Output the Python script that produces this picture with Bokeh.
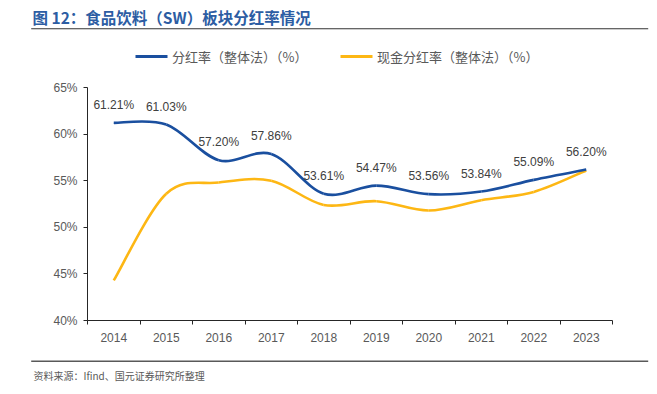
from bokeh.plotting import figure
from bokeh.layouts import column, row
from bokeh.models import Range1d, FixedTicker, PrintfTickFormatter, ColumnDataSource
from bokeh.core.properties import value
from bokeh.embed import file_html
from bokeh.resources import INLINE

years = ["2014", "2015", "2016", "2017", "2018", "2019", "2020", "2021", "2022", "2023"]
payout = [61.21, 61.03, 57.20, 57.86, 53.61, 54.47, 53.56, 53.84, 55.09, 56.20]
cash_payout = [44.3, 53.6, 54.8, 55.0, 52.4, 52.8, 51.8, 52.9, 53.8, 56.1]
y_ticks = [40, 45, 50, 55, 60, 65]

title_text = "图 12：食品饮料（SW）板块分红率情况"
legend_names = ["分红率（整体法）（%）", "现金分红率（整体法）（%）"]
source_text = "资料来源：Ifind、国元证券研究所整理"

BLUE = "#1A4F9F"
GOLD = "#FDB714"
AXIS_TXT = "#595959"
NUM_FONT = "Liberation Sans"
CJK_FONT = "Noto Sans CJK SC"

W = 650
HEAD_H = 70          # header strip: title, rule, legend
MAIN_TOP = HEAD_H
FT, FB, FL, FR = 87, 320, 87, 612   # plot frame edges (page pixels)
MAIN_H = 285
FOOT_TOP = MAIN_TOP + MAIN_H
FOOT_H = 35


def strip(height):
    f = figure(width=W, height=height, output_backend="svg", toolbar_location=None,
               x_range=Range1d(0, W), y_range=Range1d(height, 0),
               x_axis_type=None, y_axis_type=None,
               min_border_left=0, min_border_right=0, min_border_top=0,
               min_border_bottom=0)
    f.outline_line_color = None
    f.grid.visible = False
    return f


# ---- header ----
head = strip(HEAD_H)
head.text(x=[32], y=[16], text=[title_text], text_font=value(CJK_FONT),
          text_font_size="15.5px", text_font_style="bold", text_color="#2C5DA3",
          text_baseline="middle")
head.segment(x0=[30.7], y0=[28.3], x1=[647.7], y1=[28.3], line_color="#333333",
             line_width=1.1)
head.segment(x0=[135, 340], y0=[56, 56], x1=[167, 372], y1=[56, 56],
             line_color=[BLUE, GOLD], line_width=3)
head.text(x=[171.5, 376.5], y=[56, 56], text=legend_names, text_font=value(CJK_FONT),
          text_font_size="13px", text_color=AXIS_TXT, text_baseline="middle")

# ---- main chart ----
p = figure(width=W, height=MAIN_H, output_backend="svg", toolbar_location=None,
           x_range=Range1d(-0.5, len(years) - 0.5), y_range=Range1d(40, 65),
           min_border_left=FL, min_border_right=W - FR,
           min_border_top=FT - MAIN_TOP,
           min_border_bottom=MAIN_TOP + MAIN_H - FB)
p.outline_line_color = None
p.grid.visible = False

xs = list(range(len(years)))


def bezier_source(ys):
    n = len(ys)
    d = dict(x0=[], y0=[], x1=[], y1=[], cx0=[], cy0=[], cx1=[], cy1=[])
    for i in range(n - 1):
        pi, pj = (xs[i], ys[i]), (xs[i + 1], ys[i + 1])
        prev = (xs[i - 1], ys[i - 1]) if i > 0 else pi
        nxt = (xs[i + 2], ys[i + 2]) if i + 2 < n else pj
        d["x0"].append(pi[0]); d["y0"].append(pi[1])
        d["x1"].append(pj[0]); d["y1"].append(pj[1])
        d["cx0"].append(pi[0] + (pj[0] - prev[0]) / 6)
        d["cy0"].append(pi[1] + (pj[1] - prev[1]) / 6)
        d["cx1"].append(pj[0] - (nxt[0] - pi[0]) / 6)
        d["cy1"].append(pj[1] - (nxt[1] - pi[1]) / 6)
    return ColumnDataSource(d)


p.bezier(x0="x0", y0="y0", x1="x1", y1="y1", cx0="cx0", cy0="cy0",
         cx1="cx1", cy1="cy1", source=bezier_source(cash_payout),
         line_color=GOLD, line_width=2.6)
p.bezier(x0="x0", y0="y0", x1="x1", y1="y1", cx0="cx0", cy0="cy0",
         cx1="cx1", cy1="cy1", source=bezier_source(payout),
         line_color=BLUE, line_width=2.6)

lab_src = ColumnDataSource(dict(x=xs, y=payout, t=[f"{v:.2f}%" for v in payout]))
p.text(x="x", y="y", text="t", source=lab_src, y_offset=-18,
       text_align="center", text_baseline="middle",
       text_font=value(NUM_FONT), text_font_size="12px", text_color="#404040")

xa = p.xaxis[0]
xa.ticker = FixedTicker(ticks=xs, minor_ticks=[i - 0.5 for i in range(len(years) + 1)])
xa.major_label_overrides = {i: y for i, y in enumerate(years)}
xa.major_tick_line_color = None
xa.minor_tick_line_color = "#262626"
xa.minor_tick_out = 4
xa.minor_tick_in = 0
xa.axis_line_color = "#262626"
xa.major_label_standoff = 6
xa.major_label_text_font = NUM_FONT
xa.major_label_text_font_size = "12px"
xa.major_label_text_color = AXIS_TXT

ya = p.yaxis[0]
ya.ticker = FixedTicker(ticks=y_ticks, minor_ticks=[])
ya.formatter = PrintfTickFormatter(format="%d%%")
ya.major_tick_out = 4
ya.major_tick_in = 0
ya.major_tick_line_color = "#262626"
ya.minor_tick_line_color = None
ya.axis_line_color = "#262626"
ya.major_label_standoff = 6
ya.major_label_text_font = NUM_FONT
ya.major_label_text_font_size = "12px"
ya.major_label_text_color = AXIS_TXT

# ---- footer ----
foot = strip(FOOT_H)
foot.segment(x0=[30.7], y0=[360.8 - FOOT_TOP], x1=[647.7], y1=[360.8 - FOOT_TOP],
             line_color="#595959", line_width=1.6)
foot.text(x=[33], y=[375 - FOOT_TOP], text=[source_text], text_font=value(CJK_FONT),
          text_font_size="10px", text_color=AXIS_TXT, text_baseline="middle")

layout = column(row(head), row(p), row(foot), spacing=0)
open("out.html", "w").write(file_html(layout, INLINE))
